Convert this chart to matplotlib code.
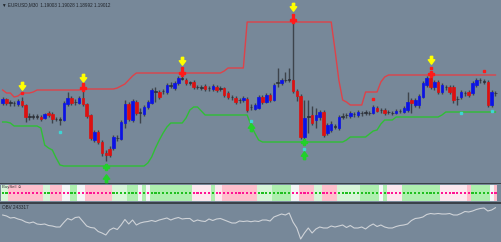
import numpy as np
import matplotlib
matplotlib.use('Agg')
import matplotlib.pyplot as plt

# EURUSD M30 bars, prices in pips (1.0000 = 10000)
opens = [11897, 11901, 11898, 11897, 11896, 11899, 11895, 11884, 11883, 11883.5,
         11883, 11882, 11887, 11886, 11881, 11880.5, 11880, 11896, 11902, 11898,
         11897, 11902, 11896, 11885, 11860, 11868, 11858, 11847, 11851, 11852,
         11862, 11861, 11877, 11896, 11880, 11898, 11887, 11886, 11893, 11897,
         11909, 11908, 11909, 11908, 11915, 11912, 11917, 11921.5, 11920, 11918,
         11918, 11913, 11913, 11914, 11912, 11911, 11913, 11912, 11912, 11907,
         11903, 11902, 11900, 11900, 11901, 11893, 11891, 11892, 11903, 11898,
         11905, 11900, 11917, 11917, 11920, 11920, 11920, 11909, 11904, 11863,
         11884, 11885, 11880, 11883, 11888, 11867, 11870, 11874, 11872, 11883,
         11885, 11884, 11886, 11885, 11887, 11888, 11887, 11887, 11892, 11890,
         11890, 11888, 11887, 11887, 11889, 11888, 11890, 11900, 11895, 11895,
         11903, 11915, 11922, 11913, 11918, 11908, 11913, 11913, 11913, 11901,
         11903, 11907, 11908, 11907, 11915, 11920, 11919, 11918, 11895, 11907]
closes = [11901, 11897, 11897, 11896.5, 11899, 11895, 11883, 11883, 11883.5, 11883,
          11881, 11886, 11885, 11881, 11880.5, 11879.5, 11897, 11902, 11897, 11897.5,
          11902, 11896, 11884, 11862, 11868, 11858, 11847, 11845, 11845, 11863,
          11861.5, 11878, 11896, 11881, 11899, 11887, 11888, 11893, 11898, 11910,
          11908, 11903, 11908.5, 11915, 11914, 11917, 11922, 11921, 11917, 11917,
          11913, 11912.5, 11912, 11911, 11911.5, 11914, 11910, 11911, 11905, 11903,
          11902.5, 11898, 11899.5, 11902, 11890, 11892.5, 11895, 11903, 11898, 11905,
          11900, 11915, 11918, 11920, 11919.5, 11920.5, 11909, 11904, 11863, 11882,
          11883, 11877, 11885, 11888, 11865, 11875, 11876, 11873, 11883, 11884,
          11884.5, 11887, 11885.5, 11888, 11886.5, 11887, 11886.5, 11893, 11889, 11889.5,
          11887, 11887.5, 11886.5, 11889, 11888.5, 11892, 11898, 11897, 11900, 11904,
          11917, 11922, 11913, 11918, 11908, 11915, 11912.5, 11908, 11900, 11900.5,
          11908, 11906.5, 11905, 11917, 11920, 11919.5, 11918, 11895, 11908, 11906.5]
highs = [11903, 11902, 11900, 11899, 11901, 11903, 11896, 11887, 11886, 11886,
         11885, 11887, 11889, 11888, 11883, 11883, 11899, 11908, 11904, 11901,
         11904, 11912, 11897, 11886, 11870, 11870, 11860, 11850, 11854, 11865,
         11865, 11880, 11900, 11898, 11901, 11900, 11892, 11895, 11900, 11912,
         11913, 11910, 11911, 11917, 11918, 11919, 11924, 11926, 11922, 11919,
         11920, 11915, 11915, 11916, 11914, 11916, 11915, 11914, 11913, 11909,
         11905, 11904, 11902, 11904, 11903, 11896, 11897, 11905, 11905, 11907,
         11907, 11917, 11932, 11922, 11928, 11932, 11982, 11911, 11906, 11900,
         11900, 11894, 11892, 11890, 11890, 11877, 11879, 11876, 11885, 11887,
         11887, 11889, 11888, 11890, 11889, 11890, 11889, 11895, 11894, 11892,
         11892, 11890, 11889, 11891, 11891, 11894, 11908, 11902, 11902, 11906,
         11919, 11924, 11926, 11920, 11920, 11917, 11915, 11915, 11915, 11904,
         11910, 11909, 11910, 11919, 11922, 11922, 11921, 11920, 11910, 11909]
lows = [11895, 11895, 11894, 11894, 11894, 11893, 11878, 11880, 11881, 11881,
        11879, 11881, 11883, 11877, 11879, 11875, 11879, 11894, 11895, 11895,
        11896, 11894, 11882, 11860, 11858, 11856, 11844, 11839, 11843, 11850,
        11859, 11860, 11872, 11879, 11878, 11885, 11877, 11884, 11891, 11896,
        11898, 11901, 11906, 11906, 11912, 11910, 11915, 11920, 11915, 11915,
        11911, 11911, 11910, 11909, 11909, 11909, 11908, 11909, 11903, 11901,
        11900, 11896, 11897, 11898, 11888, 11890, 11890, 11891, 11896, 11897,
        11898, 11899, 11913, 11915, 11918, 11918, 11907, 11899, 11861, 11861,
        11867, 11875, 11872, 11880, 11863, 11865, 11868, 11871, 11870, 11881,
        11882, 11882, 11883, 11883, 11884, 11885, 11885, 11886, 11888, 11887,
        11885, 11886, 11885, 11886, 11887, 11887, 11888, 11887, 11893, 11892,
        11902, 11913, 11911, 11910, 11906, 11906, 11910, 11906, 11897, 11895,
        11901, 11904, 11903, 11905, 11913, 11917, 11916, 11893, 11893, 11904]

# channel lines (red upper, green lower)
upper = [11910, 11907, 11907, 11903, 11904, 11907, 11907, 11907, 11908, 11910,
         11910, 11910, 11910, 11910, 11910, 11910, 11910, 11910, 11910, 11910,
         11910, 11911, 11911, 11911, 11911, 11911, 11911, 11911, 11911, 11911,
         11912, 11914, 11916, 11920, 11924, 11927, 11927, 11927, 11927, 11927,
         11927, 11927, 11927, 11927, 11927, 11927, 11927, 11927, 11927, 11927,
         11927, 11927, 11927, 11927, 11927, 11927, 11927, 11927, 11929, 11932,
         11932, 11932, 11932, 11932, 11978, 11978, 11978, 11978, 11978, 11978,
         11978, 11978, 11978, 11978, 11978, 11978, 11978, 11978, 11978, 11978,
         11978, 11978, 11978, 11978, 11978, 11978, 11978, 11950, 11920, 11900,
         11898, 11895, 11895, 11895, 11895, 11908, 11908, 11908, 11908, 11918,
         11923, 11925, 11925, 11925, 11925, 11925, 11925, 11925, 11925, 11925,
         11925, 11925, 11925, 11925, 11925, 11925, 11925, 11925, 11925, 11925,
         11925, 11925, 11925, 11925, 11925, 11925, 11925, 11925, 11925, 11925]
lower = [11878, 11878, 11877, 11874, 11874, 11874, 11874, 11874, 11874, 11874,
         11872, 11855, 11852, 11850, 11842, 11835, 11834, 11834, 11834, 11834,
         11834, 11834, 11834, 11834, 11834, 11834, 11834, 11834, 11834, 11834,
         11834, 11834, 11834, 11834, 11834, 11834, 11834, 11834, 11837, 11843,
         11852, 11860, 11867, 11873, 11877, 11877, 11877, 11877, 11882, 11890,
         11893, 11893, 11889, 11885, 11885, 11885, 11885, 11885, 11885, 11885,
         11885, 11885, 11885, 11885, 11885, 11875, 11867, 11860, 11858, 11858,
         11858, 11858, 11858, 11858, 11858, 11858, 11858, 11858, 11858, 11858,
         11858, 11858, 11858, 11858, 11858, 11858, 11858, 11858, 11858, 11858,
         11860, 11863, 11863, 11863, 11863, 11863, 11866, 11869, 11870, 11876,
         11880, 11880, 11880, 11883, 11883, 11883, 11883, 11883, 11883, 11883,
         11883, 11883, 11883, 11883, 11883, 11885, 11888, 11888, 11888, 11888,
         11888, 11888, 11888, 11888, 11888, 11888, 11888, 11888, 11888, 11888]

# signal marks: bar index and price
sell_idx = [5, 21, 47, 76, 112]
sell_px = [11914, 11922, 11939, 11993, 11940]
rcross_idx = [21, 47, 76, 112]
rcross_px = [11912, 11927, 11980, 11926]
rdot_idx = [5, 21, 47, 76, 97, 112, 126]
rdot_px = [11907, 11916, 11932, 11985, 11901, 11932, 11929]
cyan_idx = [15, 65, 79, 120, 128]
cyan_px = [11868, 11879, 11851, 11887, 11889]
gcross_idx = [27, 79]
gcross_px = [11833, 11858]
buy_idx = [27, 65, 79]
buy_px = [11822, 11873, 11845]

# BuySell zones: G green, g pale green, P pink, p pale pink, w white
zones = "ggPPPPPPPPPggPPPwwGGwwPPPPPPPggggGGGwGwGGGGGGGGGGGpppppGppPPPPPPPPPggggGGGGGwwPPPPggPPPPggggggGGGGGwGppppGGGGGGGGGGpppppppPGGGGGwP"

# OBV (thousands)
obv = [236, 235, 233, 233.5, 232, 231, 229, 228, 229, 227,
       226.5, 227, 225.5, 225, 224, 224, 228.5, 232.5, 231, 233.5,
       234, 229.5, 225, 223.5, 223, 219.5, 218, 216, 221, 223,
       221.5, 226, 231.5, 227, 231, 226, 228, 229, 229.5, 230.5,
       229.5, 231, 232, 233, 231, 232.5, 233.5, 232, 232.5, 232.5,
       229.5, 231, 230, 229.5, 232, 230.5, 232, 232.5, 231, 229.5,
       228, 228, 230, 229.5, 230, 229.3, 230, 229.5, 231, 231,
       230, 234, 235.5, 237, 236, 238, 229, 223, 212, 218,
       223, 218, 222, 224, 223, 223, 225, 224, 225, 226,
       223.5, 225.5, 223, 223, 224, 222, 225, 227, 224.5, 226,
       224, 223, 223, 224.5, 225.5, 226, 227, 230.5, 232.5, 233,
       234, 236.5, 237.5, 237, 237.5, 237, 237, 237.5, 236, 236,
       237.5, 239.5, 239, 240, 241.5, 242.5, 243, 240, 241, 243.3]

bg = '#778899'
fig = plt.figure(figsize=(5.01, 2.42), dpi=100, facecolor='#3a4149')
ax = fig.add_axes([0, 59.5 / 242, 1, 182.5 / 242], facecolor=bg)
ax_bs = fig.add_axes([0, 40 / 242, 1, 18 / 242], facecolor=bg)
ax_obv = fig.add_axes([0, 0, 1, 38 / 242], facecolor=bg)
for a in (ax, ax_bs, ax_obv):
    a.set_xticks([])
    a.set_yticks([])
    for s in a.spines.values():
        s.set_visible(False)
    a.set_xlim(-0.7, 130.45)

n = len(opens)
x = np.arange(n)
o = np.array(opens) / 1e4
c = np.array(closes) / 1e4
h = np.array(highs) / 1e4
l = np.array(lows) / 1e4

ax.vlines(x, l, h, color='#3d434b', lw=1.0, zorder=2)
body_col = np.where(np.abs(c - o) < 0.00011, '#2b3038', np.where(c > o, '#0b12e6', '#dd1010'))
ax.bar(x, c - o, bottom=o, width=0.66, color=body_col, edgecolor=body_col, lw=0.5, zorder=3)

ax.plot(x, np.array(upper) / 1e4, color='#de4249', lw=1.0, zorder=1)
ax.plot(x, np.array(lower) / 1e4, color='#2fbf35', lw=1.0, zorder=1)

down_arrow = [(-0.25, 0.9), (0.25, 0.9), (0.25, 0.15), (0.7, 0.15), (0, -0.8),
              (-0.7, 0.15), (-0.25, 0.15), (-0.25, 0.9)]
up_arrow = [(px, -py) for px, py in down_arrow]

ax.plot(sell_idx, np.array(sell_px) / 1e4, ls='none', marker=down_arrow, ms=6,
        color='#ffff00', mec='#ffff00', zorder=5)
ax.plot(rcross_idx, np.array(rcross_px) / 1e4, ls='none', marker='P', ms=4.6,
        color='#ff1a1a', mec='#ff1a1a', zorder=5)
ax.plot(rdot_idx, np.array(rdot_px) / 1e4, ls='none', marker='s', ms=1.9,
        color='#ff1a1a', zorder=5)
ax.plot(cyan_idx, np.array(cyan_px) / 1e4, ls='none', marker='s', ms=2.1,
        color='#3fd4d4', zorder=5)
ax.plot(gcross_idx, np.array(gcross_px) / 1e4, ls='none', marker='P', ms=4.6,
        color='#22d02a', zorder=5)
ax.plot(buy_idx, np.array(buy_px) / 1e4, ls='none', marker=up_arrow, ms=6,
        color='#22d02a', mec='#22d02a', zorder=5)
ax.set_ylim(1.18175, 1.2)

fam = ['Liberation Sans', 'DejaVu Sans']
ax.text(0.003, 0.985, '▼ EURUSD,M30  1.19003 1.19028 1.18992 1.19012',
        transform=ax.transAxes, fontsize=3.3, color='#1e2228', va='top', family=fam)

# BuySell panel
zone_col = {'G': '#aeefae', 'g': '#d8f5d8', 'P': '#ffbfcc', 'p': '#fce8ee', 'w': '#f4f6f6'}
ax_bs.bar(x, 0.9, bottom=0.05, width=1.0, color=[zone_col[z] for z in zones], lw=0)
dot_col = ['#1fbf1f' if z in 'Gg' else '#ff1493' for z in zones]
ax_bs.scatter(x, np.full(n, 0.5), s=2.4, c=dot_col, marker='s', lw=0, zorder=3)
ax_bs.set_ylim(0, 1)
ax_bs.text(0.004, 0.93, 'BuySell ☺', transform=ax_bs.transAxes, fontsize=3.1,
           color='#303030', va='top', family=fam)

# OBV panel
ax_obv.plot(x, obv, color='#cfd3d8', lw=0.8)
ax_obv.set_ylim(209, 247)
ax_obv.text(0.003, 0.97, 'OBV 243317', transform=ax_obv.transAxes, fontsize=3.3,
            color='#1e2228', va='top', family=fam)

fig.savefig('out.png', dpi=100, facecolor=fig.get_facecolor())
